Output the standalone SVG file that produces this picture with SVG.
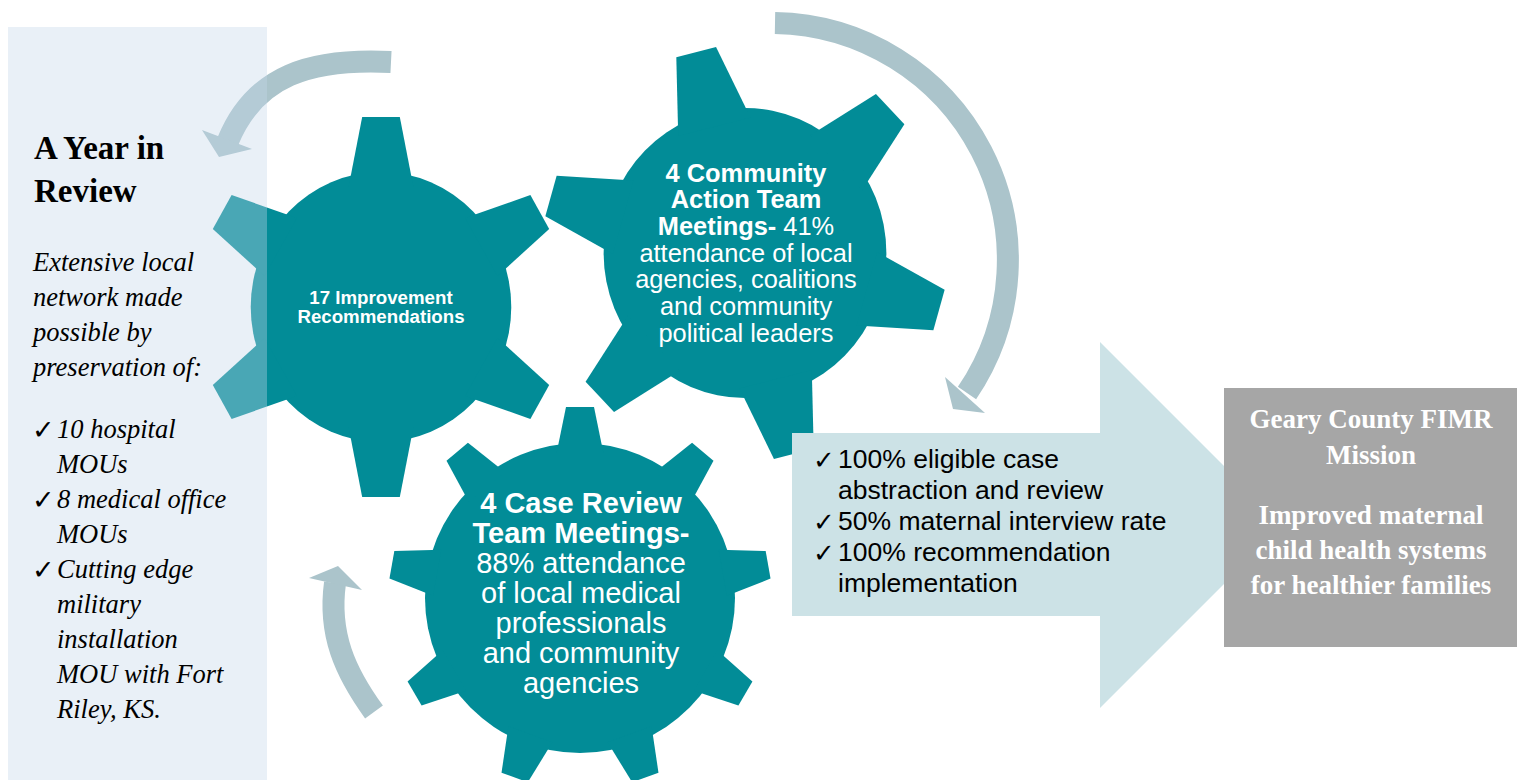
<svg xmlns="http://www.w3.org/2000/svg" xmlns:xlink="http://www.w3.org/1999/xlink" width="1522" height="780" viewBox="0 0 1522 780">
<style>
.gear{fill:#028C97}
.wt{fill:#ffffff;font-family:"Liberation Sans",Arial,sans-serif;text-anchor:middle}
.bk{fill:#000000;font-family:"Liberation Sans",Arial,sans-serif}
.band{fill:none;stroke:#ABC4CB;stroke-width:22}
.head{fill:#ABC4CB}
.ser{font-family:"Liberation Serif","Times New Roman",serif}
.chk{font-family:"DejaVu Sans",sans-serif;fill:#000000}
</style>
<defs>
<polygon id="t1" points="-33.6,-120 -19.5,-190 19.5,-190 33.6,-120"/>
<polygon id="t2" points="-38.2,-130 -21,-207 21,-207 38.2,-130"/>
<polygon id="t3" points="-23.4,-145 -14,-191 14,-191 23.4,-145"/>
</defs>
<rect width="1522" height="780" fill="#ffffff"/>

<g id="gear1">
<g class="gear" transform="translate(381,307) scale(0.965,1)">
<circle r="135"/>
<use xlink:href="#t1"/>
<use xlink:href="#t1" transform="rotate(60)"/>
<use xlink:href="#t1" transform="rotate(120)"/>
<use xlink:href="#t1" transform="rotate(180)"/>
<use xlink:href="#t1" transform="rotate(240)"/>
<use xlink:href="#t1" transform="rotate(300)"/>
</g>
<text class="wt" x="381" y="304" font-size="18.7" font-weight="bold">17 Improvement</text>
<text class="wt" x="381" y="323" font-size="18.7" font-weight="bold">Recommendations</text>
</g>

<g id="gear2">
<g class="gear" transform="translate(745,253) scale(0.975,1)">
<circle r="145"/>
<use xlink:href="#t2" transform="rotate(-14)"/>
<use xlink:href="#t2" transform="rotate(46)"/>
<use xlink:href="#t2" transform="rotate(106)"/>
<use xlink:href="#t2" transform="rotate(166)"/>
<use xlink:href="#t2" transform="rotate(226)"/>
<use xlink:href="#t2" transform="rotate(286)"/>
</g>
<g class="wt" font-size="25.4">
<text x="746" y="182" font-weight="bold">4 Community</text>
<text x="746" y="208" font-weight="bold">Action Team</text>
<text x="746" y="235"><tspan font-weight="bold">Meetings-</tspan> 41%</text>
<text x="746" y="262">attendance of local</text>
<text x="746" y="288">agencies, coalitions</text>
<text x="746" y="315">and community</text>
<text x="746" y="342">political leaders</text>
</g>
</g>

<g id="gear3">
<g class="gear" transform="translate(580,598)">
<circle r="155"/>
<use xlink:href="#t3"/>
<use xlink:href="#t3" transform="rotate(40)"/>
<use xlink:href="#t3" transform="rotate(80)"/>
<use xlink:href="#t3" transform="rotate(120)"/>
<use xlink:href="#t3" transform="rotate(160)"/>
<use xlink:href="#t3" transform="rotate(200)"/>
<use xlink:href="#t3" transform="rotate(240)"/>
<use xlink:href="#t3" transform="rotate(280)"/>
<use xlink:href="#t3" transform="rotate(320)"/>
</g>
<g class="wt" font-size="29">
<text x="581" y="513" font-weight="bold">4 Case Review</text>
<text x="581" y="543" font-weight="bold">Team Meetings-</text>
<text x="581" y="573">88% attendance</text>
<text x="581" y="603">of local medical</text>
<text x="581" y="633">professionals</text>
<text x="581" y="663">and community</text>
<text x="581" y="693">agencies</text>
</g>
</g>

<g id="outcomes">
<polygon points="792,433 1100,433 1100,342 1283,525 1100,708 1100,616 792,616" fill="#CCE2E6"/>
<g class="chk" font-size="26">
<text x="813" y="469">✓</text>
<text x="813" y="531">✓</text>
<text x="813" y="562">✓</text>
</g>
<g class="bk" font-size="26.5">
<text x="838" y="468">100% eligible case</text>
<text x="838" y="499">abstraction and review</text>
<text x="838" y="530">50% maternal interview rate</text>
<text x="838" y="561">100% recommendation</text>
<text x="838" y="592">implementation</text>
</g>
</g>

<g id="mission">
<rect x="1224" y="388" width="293" height="259" fill="#A6A6A6"/>
<g class="ser" fill="#ffffff" font-weight="bold" font-size="27" text-anchor="middle">
<text x="1371" y="428">Geary County FIMR</text>
<text x="1371" y="464">Mission</text>
<text x="1371" y="524">Improved maternal</text>
<text x="1371" y="559">child health systems</text>
<text x="1371" y="594">for healthier families</text>
</g>
</g>

<g id="connectors">
<path class="band" d="M391,62 C311,58 255,75 228,141"/>
<polygon class="head" points="202,130 252,149 219,157"/>
<path class="band" d="M775,23 A237,237 0 0 1 967,393"/>
<polygon class="head" points="945,377 985,413 953,409"/>
<path class="band" d="M374,712 C345,672 328,634 335,583"/>
<polygon class="head" points="309,578 362,590 338,566"/>
</g>

<g id="panel">
<rect x="8" y="27" width="259" height="753" fill="#C2D6EA" fill-opacity="0.37"/>
<g class="ser" fill="#000000">
<text x="34" y="159" font-size="33" font-weight="bold">A Year in</text>
<text x="34" y="202" font-size="33" font-weight="bold">Review</text>
<g font-size="26.5" font-style="italic">
<text x="33" y="271">Extensive local</text>
<text x="33" y="306">network made</text>
<text x="33" y="341">possible by</text>
<text x="33" y="376">preservation of:</text>
<text x="57" y="438">10 hospital</text>
<text x="57" y="473">MOUs</text>
<text x="57" y="508">8 medical office</text>
<text x="57" y="543">MOUs</text>
<text x="57" y="578">Cutting edge</text>
<text x="57" y="613">military</text>
<text x="57" y="648">installation</text>
<text x="57" y="683">MOU with Fort</text>
<text x="57" y="718">Riley, KS.</text>
</g>
</g>
<g class="chk" font-size="27">
<text x="32" y="439">✓</text>
<text x="32" y="509">✓</text>
<text x="32" y="579">✓</text>
</g>
</g>
</svg>
